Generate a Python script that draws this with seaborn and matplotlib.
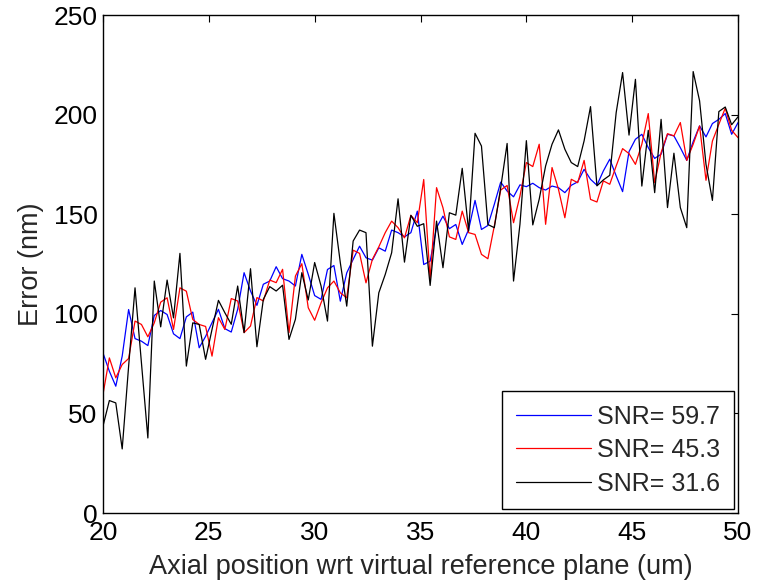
import numpy as np
import pandas as pd
import matplotlib
matplotlib.use("Agg")
import matplotlib.pyplot as plt
import seaborn as sns

x_start, x_end, n_points = 20, 50, 100

snr_labels = ["SNR= 59.7", "SNR= 45.3", "SNR= 31.6"]
colors = ["#0000ff", "#ff0000", "#000000"]

err_snr_59 = [80.4, 71.2, 63.7, 78.8, 102.2, 87.6, 86.3, 84.1, 99.2, 101.7,
              99.7, 90.0, 87.6, 98.5, 100.9, 83.0, 88.7, 95.6, 102.3, 92.6,
              90.9, 102.3, 120.7, 111.5, 104.3, 114.9, 116.5, 123.7, 117.7, 116.5,
              114.0, 129.9, 119.9, 109.2, 107.3, 122.3, 124.3, 106.4, 120.6, 127.4,
              134.0, 128.2, 127.0, 133.2, 131.5, 142.1, 140.8, 138.7, 140.8, 151.6,
              124.8, 126.5, 143.3, 149.1, 142.8, 144.9, 134.9, 142.4, 157.0, 142.4,
              144.4, 155.0, 166.2, 161.7, 158.8, 164.8, 163.9, 165.6, 163.4, 162.2,
              164.2, 163.4, 160.9, 164.6, 166.3, 172.6, 167.6, 164.6, 171.8, 177.7,
              169.3, 161.4, 181.5, 187.7, 190.2, 183.5, 178.1, 180.2, 190.2, 189.4,
              183.5, 177.1, 186.5, 194.4, 188.9, 195.6, 197.7, 200.6, 190.2, 196.1]

err_snr_45 = [59.5, 77.9, 67.9, 74.6, 77.6, 96.4, 94.7, 88.5, 95.5, 105.9,
              108.1, 92.2, 113.1, 111.4, 97.2, 94.7, 93.7, 78.8, 98.1, 92.2,
              107.7, 106.5, 90.6, 93.9, 108.2, 106.5, 117.0, 115.7, 122.4, 90.6,
              119.0, 125.2, 103.1, 96.8, 105.6, 113.1, 116.5, 110.6, 108.1, 132.0,
              130.4, 115.6, 127.4, 133.7, 140.8, 146.6, 143.3, 138.2, 149.5, 145.8,
              167.5, 117.3, 163.4, 153.3, 138.7, 137.4, 151.6, 140.8, 139.9, 129.9,
              127.7, 144.1, 162.2, 164.5, 145.8, 159.2, 176.0, 174.0, 185.2, 145.0,
              173.5, 162.6, 148.3, 167.6, 165.9, 177.1, 157.5, 156.2, 166.8, 165.1,
              174.3, 183.0, 180.5, 175.1, 185.2, 200.6, 165.9, 181.0, 190.5, 189.4,
              196.1, 177.1, 185.2, 194.4, 167.1, 186.8, 195.2, 203.3, 192.2, 188.5]

err_snr_31 = [43.6, 56.5, 55.3, 32.2, 73.7, 113.1, 75.4, 37.7, 116.5, 93.5,
              117.0, 98.0, 130.4, 73.8, 95.5, 94.7, 77.2, 92.2, 106.8, 100.6,
              94.8, 114.0, 90.6, 122.7, 83.5, 107.3, 113.7, 111.5, 114.4, 87.2,
              97.3, 120.7, 107.0, 125.8, 114.0, 96.4, 150.5, 125.7, 103.9, 136.6,
              142.1, 140.8, 83.8, 110.6, 119.8, 130.7, 157.8, 126.0, 149.5, 144.0,
              145.3, 114.3, 146.6, 123.2, 150.8, 149.6, 173.1, 141.6, 190.7, 184.3,
              144.9, 143.3, 163.4, 185.6, 116.5, 145.0, 187.0, 144.7, 157.6, 174.3,
              185.2, 192.4, 182.7, 176.0, 174.0, 186.9, 204.1, 164.3, 167.3, 169.6,
              201.1, 221.2, 189.8, 217.8, 164.2, 192.2, 160.9, 197.7, 153.4, 180.7,
              153.4, 143.3, 221.7, 207.0, 175.1, 157.0, 201.6, 203.9, 195.0, 199.0]

x_ticks = [20, 25, 30, 35, 40, 45, 50]
y_ticks = [0, 50, 100, 150, 200, 250]
x_label = "Axial position wrt virtual reference plane (um)"
y_label = "Error (nm)"

position = np.linspace(x_start, x_end, n_points)
frames = []
for lab, vals in zip(snr_labels, [err_snr_59, err_snr_45, err_snr_31]):
    frames.append(pd.DataFrame({"pos": position, "err": vals, "snr": lab}))
df = pd.concat(frames, ignore_index=True)

sns.set_style("white")
plt.rcParams["font.family"] = ["Liberation Sans", "DejaVu Sans"]
plt.rcParams["axes.linewidth"] = 1.0

fig = plt.figure(figsize=(7.57, 5.85), dpi=100)
ax = fig.add_axes([0.136, 0.123, 0.839, 0.851])

sns.lineplot(data=df, x="pos", y="err", hue="snr", hue_order=snr_labels,
             palette=colors, linewidth=0.9, ax=ax, estimator=None, sort=False)

ax.set_xlim(x_start, x_end)
ax.set_ylim(0, 250)
ax.set_xticks(x_ticks)
ax.set_yticks(y_ticks)
ax.tick_params(direction="in", length=5, width=0.8, top=True, right=True,
               labelsize=19, colors="black")
ax.tick_params(axis="x", pad=6)
ax.tick_params(axis="y", pad=4)
for s in ax.spines.values():
    s.set_visible(True)
    s.set_color("black")
ax.set_xlabel(x_label, fontsize=19.5, labelpad=6)
ax.set_ylabel(y_label, fontsize=19.5, labelpad=7)

leg = ax.legend(loc="lower right", fontsize=18, frameon=True, fancybox=False,
                edgecolor="black", framealpha=1, handlelength=3.0,
                borderaxespad=0.15, labelspacing=0.38, handletextpad=0.25,
                borderpad=0.55)
leg.get_frame().set_linewidth(1.0)
for line in leg.get_lines():
    line.set_linewidth(0.9)

fig.savefig("out.png", dpi=100)
